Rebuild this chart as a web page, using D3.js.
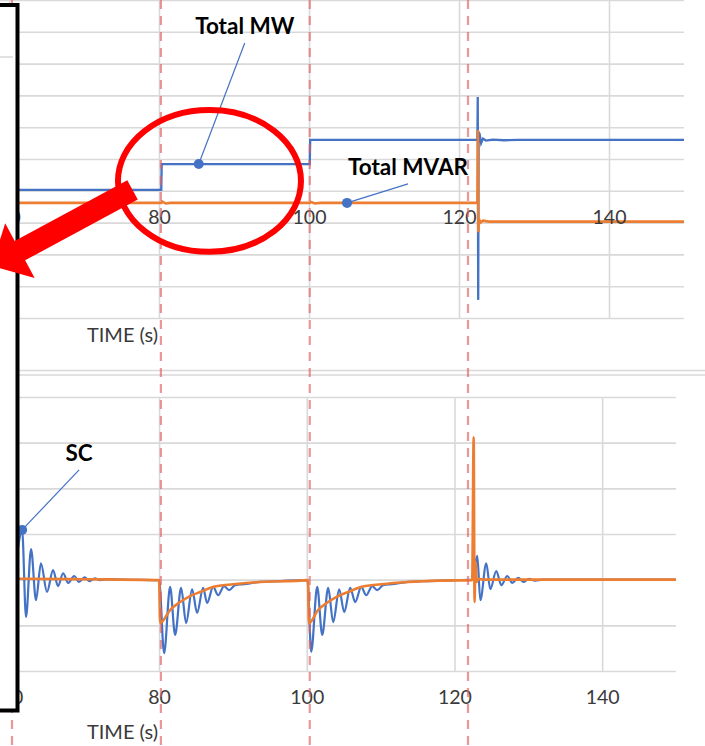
<!DOCTYPE html>
<html>
<head>
<meta charset="utf-8">
<script src="https://cdn.jsdelivr.net/npm/d3@7"></script>
<style>
  html, body { margin: 0; padding: 0; background: #fff; }
  svg { display: block; font-family: Lato, "Liberation Sans", sans-serif; }
</style>
</head>
<body>
<svg id="chart" width="705" height="746"></svg>
<script>
// ---- data ----------------------------------------------------------------
// time ticks shared by both panels (s)
const timeTicks = [60, 80, 100, 120, 140];
// switching events marked with dashed red lines (s)
const eventTimes = [60.4, 80.25, 100.1, 121.2];

// upper panel: plant totals [time s, value]
const totalMW = [
  [60, 4.03], [80.3, 4.03], [80.36, 4.84], [100.1, 4.84], [100.16, 5.6],
  [122.45, 5.6], [122.5, 6.95], [122.56, 0.57], [122.62, 5.85], [122.75, 5.78],
  [122.95, 5.5], [123.2, 5.64], [123.6, 5.58], [124.5, 5.61], [126, 5.59],
  [128, 5.6], [150, 5.6]
];
const totalMVAR = [
  [60, 3.62], [80.3, 3.62], [80.45, 3.66], [80.9, 3.6], [81.5, 3.62],
  [100.1, 3.62], [100.25, 3.65], [100.8, 3.6], [101.5, 3.62], [122.45, 3.62],
  [122.52, 5.91], [122.58, 2.7], [122.65, 3.12], [122.85, 3.0], [123.2, 3.06],
  [124, 3.03], [150, 3.03]
];

// lower panel: synchronous condenser response [time s, value]
const scOutput = [
  [60.9, 2.7], [61.45, 3.09], [61.98, 1.18], [62.66, 2.67], [63.33, 1.55],
  [64.0, 2.36], [64.82, 1.73], [65.64, 2.21], [66.31, 1.86], [67.0, 2.14],
  [67.7, 1.93], [68.5, 2.08], [69.16, 1.95], [69.9, 2.05], [70.6, 1.97],
  [71.3, 2.03], [72.0, 1.99], [73, 2.01], [75, 2.0], [80.0, 1.99],
  [80.68, 0.39], [81.49, 1.84], [82.17, 0.79], [82.98, 1.82], [83.66, 1.05],
  [84.47, 1.79], [85.15, 1.27], [85.96, 1.82], [86.5, 1.49], [87.32, 1.84],
  [88.0, 1.66], [88.8, 1.86], [89.49, 1.77], [90.3, 1.88], [91.5, 1.9],
  [93.7, 1.95], [96.5, 1.97], [100.1, 1.99],
  [100.6, 0.42], [101.41, 1.84], [102.09, 0.79], [102.9, 1.82], [103.58, 1.07],
  [104.39, 1.79], [105.07, 1.29], [105.88, 1.82], [106.56, 1.51], [107.37, 1.84],
  [108.05, 1.66], [108.86, 1.86], [109.54, 1.77], [110.35, 1.88], [111.5, 1.9],
  [113.74, 1.95], [116.5, 1.97], [120, 1.99], [122.4, 2.0],
  [123.09, 2.52], [123.5, 1.55], [124.31, 2.36], [124.85, 1.79], [125.66, 2.19],
  [126.34, 1.88], [127.15, 2.08], [127.83, 1.93], [128.64, 2.04], [129.32, 1.95],
  [130.1, 2.02], [130.9, 1.98], [132, 2.0], [150, 2.0]
];
const scSetpoint = [
  [60.9, 2.02], [70, 2.01], [80.0, 1.99], [80.15, 1.05], [81.49, 1.335],
  [82.85, 1.51], [84.2, 1.64], [85.56, 1.73], [87.32, 1.84], [90.03, 1.9],
  [93.69, 1.95], [99.1, 1.98], [100.15, 1.99], [100.3, 1.05], [101.5, 1.33],
  [102.9, 1.51], [104.25, 1.64], [105.6, 1.73], [107.37, 1.84], [110.08, 1.9],
  [113.74, 1.95], [118.1, 1.98], [122.4, 1.99], [122.6, 5.12], [122.72, 1.51],
  [122.85, 2.4], [123.0, 1.95], [123.3, 2.02], [124, 2.0], [150, 2.0]
];

// callout labels: [text, time, value, label dx, label dy]
const topLabels = [
  ["Total MW", 85.3, 4.84, 46, -130],
  ["Total MVAR", 105.07, 3.62, 61, -28]
];
const bottomLabels = [
  ["SC", 61.45, 3.09, 57, -69]
];

// highlight ring around the first step: [centre time, centre value, half-width s, half-height]
const ring = [86.73, 4.31, 12.2, 2.23];
// pointer arrow: tail [time, value], tip [time, value]
const pointerTail = [76.47, 4.03];
const pointerTip = [57.7, 1.64];

// ---- drawing -------------------------------------------------------------
const svg = d3.select("#chart");
const W = 705, H = 746;
const BLUE = "#4472C4", ORANGE = "#ED7D31", GRID = "#d9d9d9", TEXT = "#3a3a3a";

svg.append("rect").attr("width", W).attr("height", H).attr("fill", "#fff");

// scales
const xTop = d3.scaleLinear().domain([60, 150]).range([9, 684]);
const yTop = d3.scaleLinear().domain([0, 10]).range([318, 0]);
const xBot = d3.scaleLinear().domain([60, 150]).range([11.4, 676]);
const yBot = d3.scaleLinear().domain([0, 6]).range([671, 397]);

function styleGrid(g) {
  g.select(".domain").remove();
  g.selectAll("line").attr("stroke", GRID).attr("stroke-width", 1.6);
}

// ---- upper panel ----
const upper = svg.append("g");
upper.append("g")
  .call(d3.axisRight(yTop).tickValues(d3.range(0, 11)).tickSize(684).tickFormat(""))
  .call(styleGrid);
upper.append("g").attr("transform", "translate(0,318)")
  .call(d3.axisBottom(xTop).tickValues(timeTicks).tickSize(-318).tickFormat(""))
  .call(styleGrid);

// ---- lower panel ----
const lower = svg.append("g");
// separator between the panels
lower.append("line").attr("x1", 0).attr("x2", W).attr("y1", 370.5).attr("y2", 370.5)
  .attr("stroke", GRID).attr("stroke-width", 1.5);
lower.append("line").attr("x1", 0).attr("x2", W).attr("y1", 375).attr("y2", 375)
  .attr("stroke", GRID).attr("stroke-width", 1.5);
lower.append("g")
  .call(d3.axisRight(yBot).tickValues(d3.range(0, 7)).tickSize(676).tickFormat(""))
  .call(styleGrid);
lower.append("g").attr("transform", "translate(0,671)")
  .call(d3.axisBottom(xBot).tickValues(timeTicks).tickSize(-274).tickFormat(""))
  .call(styleGrid);

// series
const lineTop = d3.line().x(d => xTop(d[0])).y(d => yTop(d[1]));
const lineBot = d3.line().x(d => xBot(d[0])).y(d => yBot(d[1])).curve(d3.curveMonotoneX);

upper.append("path").datum(totalMW).attr("d", lineTop)
  .attr("fill", "none").attr("stroke", BLUE).attr("stroke-width", 2.3);
upper.append("path").datum(totalMVAR).attr("d", lineTop)
  .attr("fill", "none").attr("stroke", ORANGE).attr("stroke-width", 2.6);

lower.append("path").datum(scOutput).attr("d", lineBot)
  .attr("fill", "none").attr("stroke", BLUE).attr("stroke-width", 2.2);
lower.append("path").datum(scSetpoint).attr("d", lineBot)
  .attr("fill", "none").attr("stroke", ORANGE).attr("stroke-width", 2.6);

// tick labels
function styleTicks(g) {
  g.select(".domain").remove();
  g.selectAll("text").attr("fill", TEXT).attr("font-size", 19.5)
    .attr("font-family", "Lato, 'Liberation Sans', sans-serif");
}
upper.append("g").attr("transform", "translate(0,210)")
  .call(d3.axisBottom(xTop).tickValues(timeTicks).tickSize(0).tickPadding(0))
  .call(styleTicks);
lower.append("g").attr("transform", "translate(0,690)")
  .call(d3.axisBottom(xBot).tickValues(timeTicks).tickSize(0).tickPadding(0))
  .call(styleTicks);

// axis titles
svg.append("text").attr("x", 122.5).attr("y", 342).attr("text-anchor", "middle")
  .attr("fill", TEXT).attr("font-size", 20).text("TIME (s)");
svg.append("text").attr("x", 122.5).attr("y", 739).attr("text-anchor", "middle")
  .attr("fill", TEXT).attr("font-size", 20).text("TIME (s)");

// dashed event markers across both panels
svg.append("g").selectAll("line").data(eventTimes).join("line")
  .attr("x1", d => xTop(d)).attr("x2", d => xTop(d))
  .attr("y1", 0).attr("y2", H)
  .attr("stroke", "#e06060").attr("stroke-opacity", 0.65)
  .attr("stroke-width", 2.2).attr("stroke-dasharray", "9,7");

// callouts: leader line from the marker up to the label
function callout(g, xs, ys, d) {
  const px = xs(d[1]), py = ys(d[2]);
  const lx = px + d[3], ly = py + d[4];
  g.append("line").attr("x1", px).attr("y1", py)
    .attr("x2", lx).attr("y2", ly + 9)
    .attr("stroke", BLUE).attr("stroke-width", 1.2);
  g.append("circle").attr("cx", px).attr("cy", py).attr("r", 5).attr("fill", BLUE);
  g.append("text").attr("x", lx).attr("y", ly).attr("text-anchor", "middle")
    .attr("font-weight", 700).attr("font-size", 22.5).attr("fill", "#000").text(d[0]);
}
topLabels.forEach(d => callout(upper, xTop, yTop, d));
bottomLabels.forEach(d => callout(lower, xBot, yBot, d));

// framed panel on the left edge
svg.append("rect").attr("x", -12).attr("y", 5).attr("width", 29.5).attr("height", 705.5)
  .attr("fill", "#fff").attr("stroke", "#000").attr("stroke-width", 4);
svg.append("line").attr("x1", 0).attr("x2", 13).attr("y1", 57).attr("y2", 57)
  .attr("stroke", GRID).attr("stroke-width", 1.5);

// red highlight ring
svg.append("ellipse")
  .attr("cx", xTop(ring[0])).attr("cy", yTop(ring[1]))
  .attr("rx", xTop(ring[0] + ring[2]) - xTop(ring[0]))
  .attr("ry", yTop(ring[1]) - yTop(ring[1] + ring[3]))
  .attr("fill", "none").attr("stroke", "#ff0000").attr("stroke-width", 6);

// red pointer arrow, drawn over the frame
(function () {
  const t = [xTop(pointerTail[0]), yTop(pointerTail[1])];
  const p = [xTop(pointerTip[0]), yTop(pointerTip[1])];
  const len = Math.hypot(p[0] - t[0], p[1] - t[1]);
  const d = [(p[0] - t[0]) / len, (p[1] - t[1]) / len];
  const n = [-d[1], d[0]];
  const w = 11, hw = 31, head = 32;
  const at = (s, k) => [t[0] + s * d[0] + k * n[0], t[1] + s * d[1] + k * n[1]];
  const pts = [at(0, -w), at(len - head, -w), at(len - head, -hw), at(len, 0),
               at(len - head, hw), at(len - head, w), at(0, w)];
  svg.append("polygon").attr("points", pts.map(q => q.join(",")).join(" "))
    .attr("fill", "#ff0000");
})();
</script>
</body>
</html>
